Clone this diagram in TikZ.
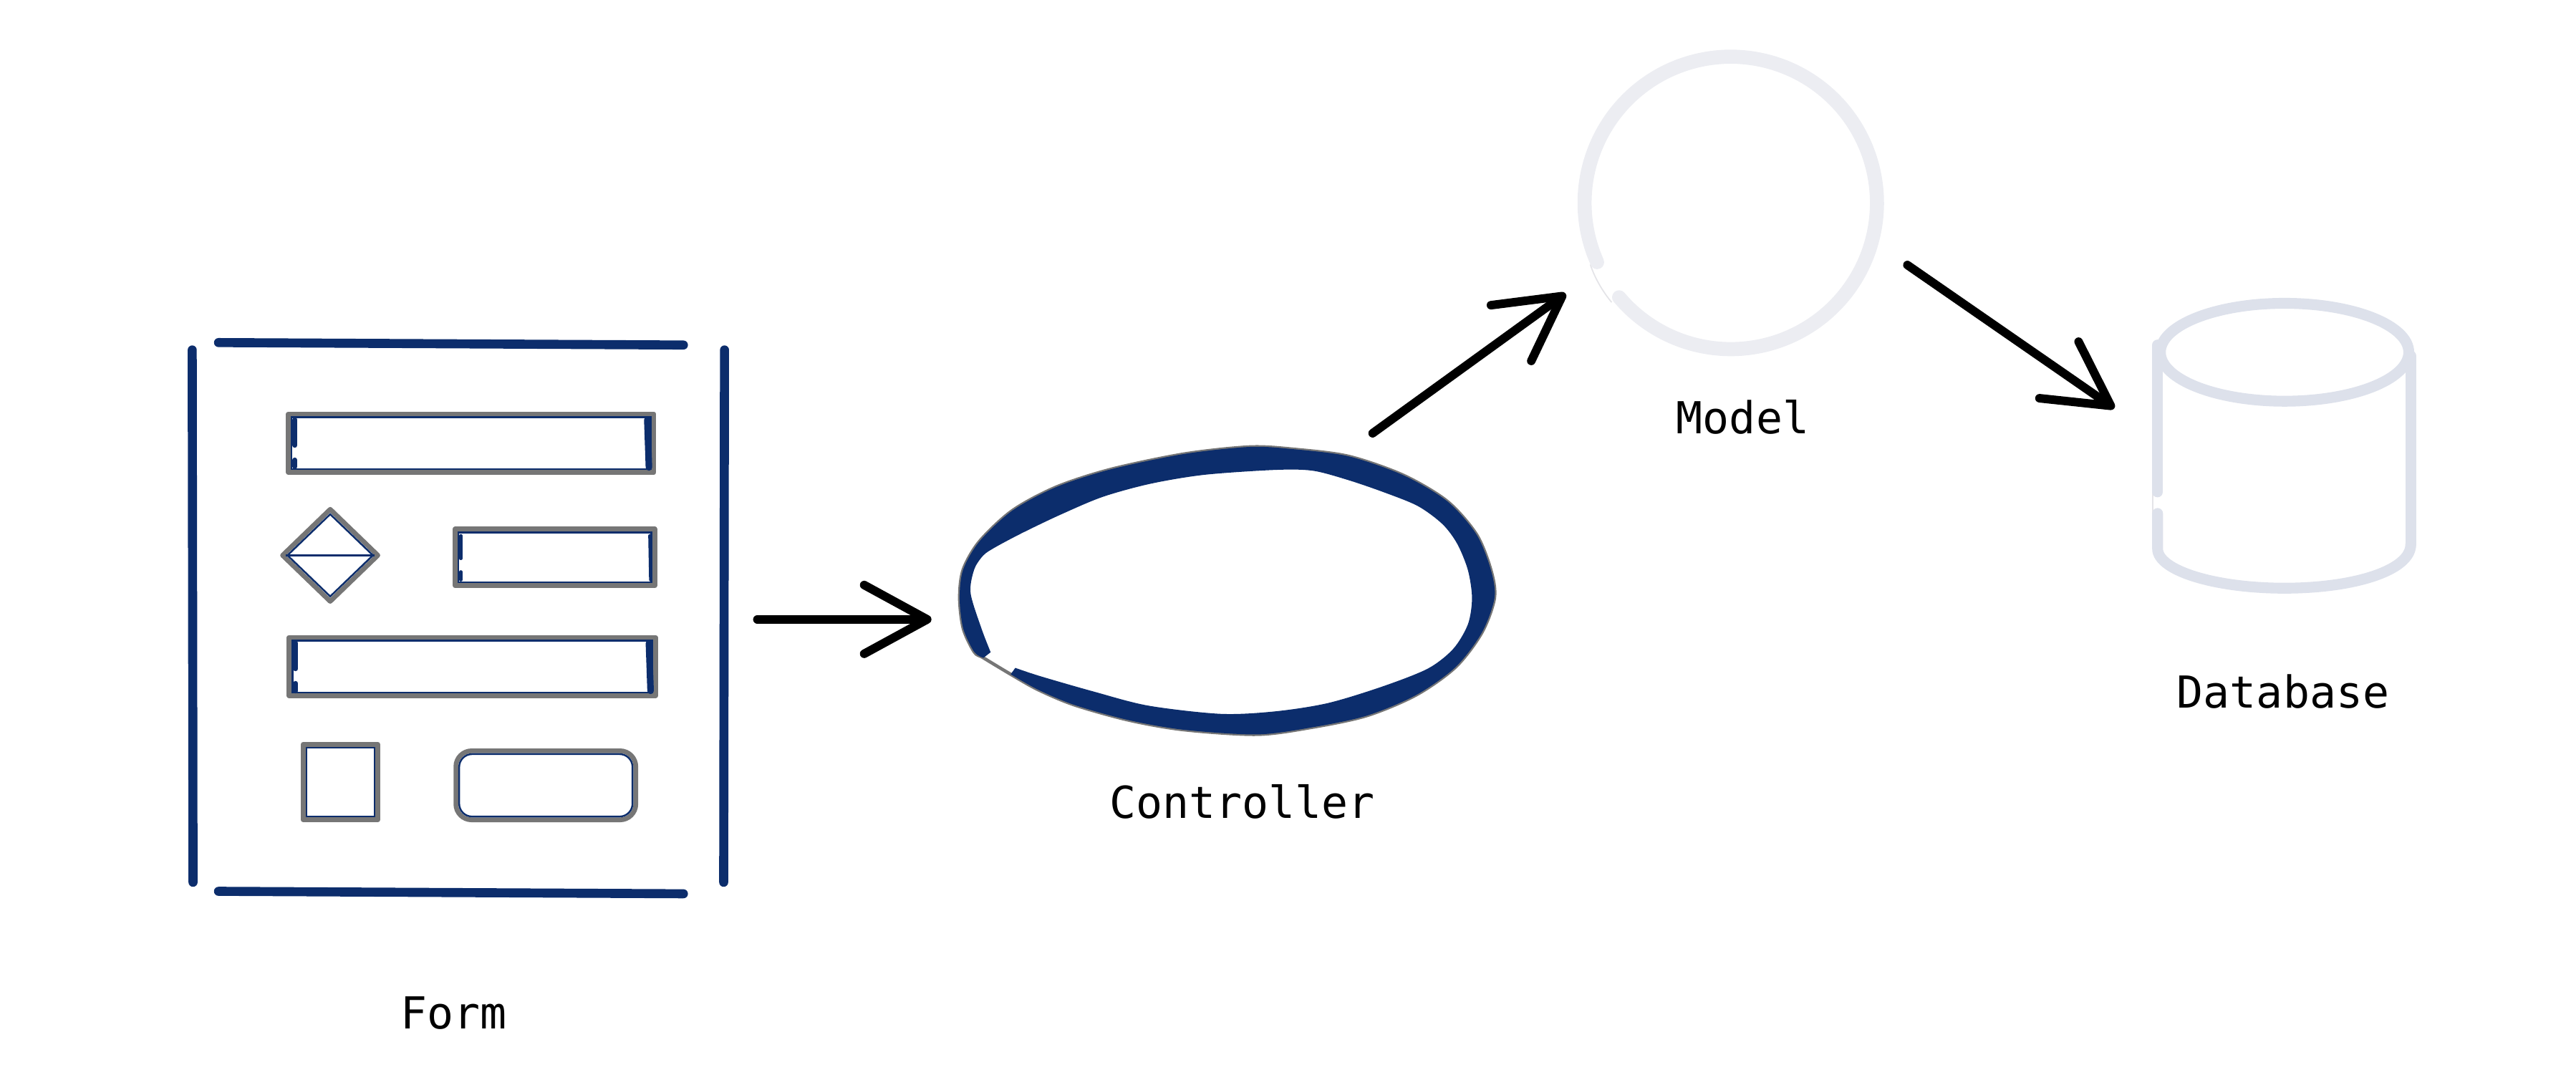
\documentclass[tikz,border=0pt]{standalone}
\usepackage{fontspec}
\setmonofont{DejaVu Sans Mono}
\usetikzlibrary{arrows.meta}

\definecolor{navy}{HTML}{0C2D6C}
\definecolor{formgray}{HTML}{767676}
\definecolor{modelgray}{HTML}{ECEDF2}
\definecolor{dbgray}{HTML}{DDE1EB}
\definecolor{edgegray}{HTML}{E4E4E8}

\tikzstyle{bar} = [navy, line width=3.6pt, line cap=round]
\tikzstyle{field} = [formgray, line width=1.9pt, line join=round]
\tikzstyle{fieldin} = [navy, line width=0.7pt]
\tikzstyle{smudge} = [navy, line width=2pt, line cap=round]
\tikzstyle{band} = [line width=5.5pt, line cap=round]
\tikzstyle{arw} = [-{Straight Barb[length=0.88cm,width=0.96cm,round]}, line width=3.4pt, line cap=round]
\tikzstyle{lbl} = [font=\ttfamily\fontsize{17.5}{21}\selectfont]

\begin{document}
\begin{tikzpicture}[x=0.02294cm, y=-0.02294cm]
\useasboundingbox (0,0) rectangle (1568,654);

% form
\draw [bar] (133,208.5) -- (416,210);
\draw [bar] (133,542.5) -- (416,544);
\draw [bar] (117,213) -- (117.5,537);
\draw [bar] (441,213) -- (440.5,537);

\draw [field] (175.5,252) rectangle (398,287.5);
\draw [fieldin] (177.5,254) rectangle (396,285.5);
\draw [smudge] (179.5,255.5) -- (179.5,271);
\draw [smudge] (179.5,280) -- (179.5,284);
\draw [smudge, line width=2.6pt] (394,255.5) -- (395,284.5);

\draw [field] (172,338) -- (201,310) -- (230,338) -- (201,366) -- cycle;
\draw [fieldin] (175,338) -- (201,313) -- (227,338) -- (201,363) -- cycle;
\draw [fieldin, line width=1pt] (174,338) -- (228,338);

\draw [field] (277,322) rectangle (398.5,356.5);
\draw [fieldin] (279,324) rectangle (396.5,354.5);
\draw [smudge, line width=1.2pt] (280.5,326) -- (280.5,340);
\draw [smudge, line width=1.2pt] (280.5,348) -- (280.5,353);
\draw [smudge, line width=1.2pt] (395.5,326) -- (396,353);

\draw [field] (176,388) rectangle (399,423.5);
\draw [fieldin] (178,390) rectangle (397,421.5);
\draw [smudge] (180,391.5) -- (180,407);
\draw [smudge] (180,416) -- (180,420.5);
\draw [smudge, line width=2.6pt] (395,391.5) -- (396,420.5);

\draw [field] (184.5,453) rectangle (230,499);
\draw [fieldin] (186.5,455) rectangle (228,497);

\draw [field, rounded corners=0.22cm] (277.5,457) rectangle (387,499);
\draw [fieldin, rounded corners=0.18cm] (279.5,459) rectangle (385,497);

% controller
\draw [formgray, line width=1.3pt] plot[smooth cycle, tension=0.5] coordinates {(615.2,410.4) (631.9,419.8) (654.1,429.1) (687.4,438.4) (720.8,444.2) (765.2,447) (798.6,442.7) (831.9,435.6) (862,423) (886,406) (902,385) (909.7,363.8) (907.4,346.6) (898.6,325.1) (880.8,305) (854.1,289.2) (820.8,277.7) (787.4,273.4) (760.8,272) (720.8,276.3) (676.3,285.6) (643,296.4) (616.3,310.7) (596.3,329.4) (586.3,346.6) (584.1,363.8) (586.3,382.5) (593,396.8) (598.6,400.4)};
\fill [navy] plot[smooth, tension=0.5] coordinates {(615.2,410.4) (631.9,419.8) (654.1,429.1) (687.4,438.4) (720.8,444.2) (765.2,447) (798.6,442.7) (831.9,435.6) (862,423) (886,406) (902,385) (909.7,363.8) (907.4,346.6) (898.6,325.1) (880.8,305) (854.1,289.2) (820.8,277.7) (787.4,273.4) (760.8,272) (720.8,276.3) (676.3,285.6) (643,296.4) (616.3,310.7) (596.3,329.4) (586.3,346.6) (584.1,363.8) (586.3,382.5) (593,396.8) (598.6,400.4)}
  -- plot[smooth, tension=0.5] coordinates {(603,397) (597.4,382.5) (590.8,361) (593,346.6) (598.6,338) (606,333) (622,324.5) (645,313.5) (671,302.5) (700,294.5) (733,289) (776.3,286) (799,286.5) (820,292) (842,299.5) (863,308) (878,319) (887,331) (893.5,347) (896,364) (893.5,380) (884.5,395) (869,407) (841,418) (808,428) (776,433) (743,434.5) (699,429.5) (666,421) (633,411.5) (618,406.5)} -- cycle;

% model
\draw [edgegray, line width=0.5pt] (968,161) .. controls (971,170) and (976,178) .. (981,184);
\draw [band, modelgray, line width=5.6pt] plot[domain=-203.9:139.8, samples=90, smooth] ({1053.5+89*cos(\x)}, {123.5+89*sin(\x)});

% database
\draw [edgegray, line width=0.5pt] (1310.5,299) -- (1310.5,313);
\draw [band, dbgray, line width=4.3pt] (1390.6,214.4) ellipse (75.6 and 29.8);
\draw [band, dbgray, line width=4.3pt] (1313.3,210) -- (1313.3,299.4);
\draw [band, dbgray, line width=4.3pt] (1467.4,216.6) -- (1467.4,331.4);
\draw [band, dbgray, line width=4.3pt] (1313.3,312.5) -- (1313.3,334) .. controls (1313.3,347.2) and (1348,358) .. (1390.5,358) .. controls (1433,358) and (1467.4,347.2) .. (1467.4,331.4);

% connectors
\coordinate (formout) at (461,377);
\coordinate (ctrlin) at (567,377);
\coordinate (ctrlout) at (835.5,263.7);
\coordinate (modelin) at (953,178.7);
\coordinate (modelout) at (1161,161.3);
\coordinate (dbin) at (1287,248.5);
\draw [arw] (formout) -- (ctrlin);
\draw [arw] (ctrlout) -- (modelin);
\draw [arw] (modelout) -- (dbin);

\node [lbl] (formlbl) at (276,616.4) {Form};
\node [lbl] (ctrllbl) at (756.1,488) {Controller};
\node [lbl] (modellbl) at (1060.8,253.7) {Model};
\node [lbl] (dblbl) at (1389.7,421.1) {Database};

\end{tikzpicture}
\end{document}
